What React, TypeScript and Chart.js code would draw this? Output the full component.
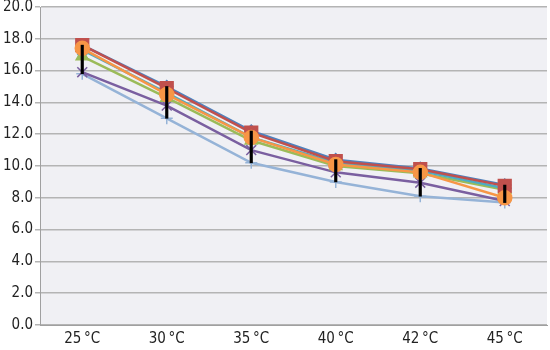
import React, { useEffect, useRef } from "react";
import { Chart, registerables } from "chart.js";

Chart.register(...registerables);

const categories = ["25\u2009°C", "30\u2009°C", "35\u2009°C", "40\u2009°C", "42\u2009°C", "45\u2009°C"];

const seriesBlue = [17.6, 15.0, 12.2, 10.4, 9.85, 8.8];
const seriesRed = [17.6, 14.9, 12.1, 10.3, 9.8, 8.75];
const seriesGreen = [16.9, 14.3, 11.6, 10.0, 9.55, 8.5];
const seriesPurple = [15.9, 13.8, 11.0, 9.6, 8.95, 7.8];
const seriesTeal = [17.3, 14.6, 11.8, 10.2, 9.7, 8.6];
const seriesOrange = [17.4, 14.5, 11.8, 10.1, 9.6, 8.0];
const seriesLightBlue = [15.8, 13.0, 10.2, 9.0, 8.1, 7.7];

const yTicks = [0, 2, 4, 6, 8, 10, 12, 14, 16, 18, 20];

const allSeries = [seriesBlue, seriesRed, seriesGreen, seriesPurple, seriesTeal, seriesOrange, seriesLightBlue];
const highLow = categories.map((_, i) => {
  const vals = allSeries.map((s) => s[i]);
  return [Math.min(...vals), Math.max(...vals)];
});

const FONT = "'DejaVu Sans Condensed', 'Liberation Sans Narrow', sans-serif";

export default function App() {
  const ref = useRef<HTMLCanvasElement | null>(null);

  useEffect(() => {
    document.body.style.margin = "0";
    const canvas = ref.current;
    if (!canvas) return;

    const plotBg = {
      id: "plotBg",
      beforeDraw(chart: any) {
        const { ctx, chartArea } = chart;
        ctx.save();
        ctx.fillStyle = "#f0f0f4";
        ctx.fillRect(chartArea.left, chartArea.top, chartArea.right - chartArea.left, chartArea.bottom - chartArea.top);
        ctx.restore();
      },
    };

    const line = (data: number[], color: string, style: any, radius: number, order: number) => ({
      type: "line" as const,
      data,
      borderColor: color,
      backgroundColor: color,
      pointBorderColor: color,
      pointBackgroundColor: color,
      pointStyle: style,
      pointRadius: radius,
      pointBorderWidth: 1.5,
      borderWidth: 2.5,
      tension: 0,
      order,
    });

    const chart = new Chart(canvas, {
      data: {
        labels: categories,
        datasets: [
          {
            type: "bar" as const,
            data: highLow as any,
            backgroundColor: "#000000",
            barThickness: 2.5,
            order: 0,
          },
          line(seriesLightBlue, "#95b3d7", "cross", 6, 8),
          line(seriesPurple, "#7a5fa0", "crossRot", 7, 7),
          line(seriesGreen, "#9bbb59", "triangle", 7, 6),
          line(seriesTeal, "#4bacc6", "star", 7, 5),
          line(seriesBlue, "#4f81bd", "rectRot", 6, 4),
          line(seriesRed, "#c0504d", "rect", 9, 3),
          line(seriesOrange, "#f79646", "circle", 7, 2),
        ],
      },
      options: {
        responsive: false,
        animation: false,
        layout: { autoPadding: false, padding: { top: 2, right: 3, left: 0, bottom: 0 } },
        plugins: { legend: { display: false }, tooltip: { enabled: false } },
        scales: {
          x: {
            offset: true,
            grid: { display: false, drawTicks: false },
            border: { display: true, color: "#a0a0a0", width: 1 },
            ticks: { color: "#222", font: { family: FONT, size: 15 }, padding: 5 },
            afterFit: (s: any) => {
              s.height = 25;
              s.paddingLeft = 0;
              s.paddingRight = 0;
            },
          },
          y: {
            min: 0,
            max: 20,
            afterBuildTicks: (s: any) => {
              s.ticks = yTicks.map((v) => ({ value: v }));
            },
            grid: { color: "#b4b4b4", lineWidth: 1.5, tickLength: 5, drawTicks: true },
            border: { display: true, color: "#a0a0a0", width: 1 },
            ticks: {
              color: "#222",
              font: { family: FONT, size: 15 },
              padding: 2,
              callback: (v: any) => Number(v).toFixed(1),
            },
            afterFit: (s: any) => {
              s.width = 40;
              s.paddingTop = 7;
              s.paddingBottom = 0;
            },
          },
        },
      },
      plugins: [plotBg],
    });

    return () => chart.destroy();
  }, []);

  return (
    <div style={{ width: 550, height: 350 }}>
      <canvas ref={ref} width={550} height={350} />
    </div>
  );
}
